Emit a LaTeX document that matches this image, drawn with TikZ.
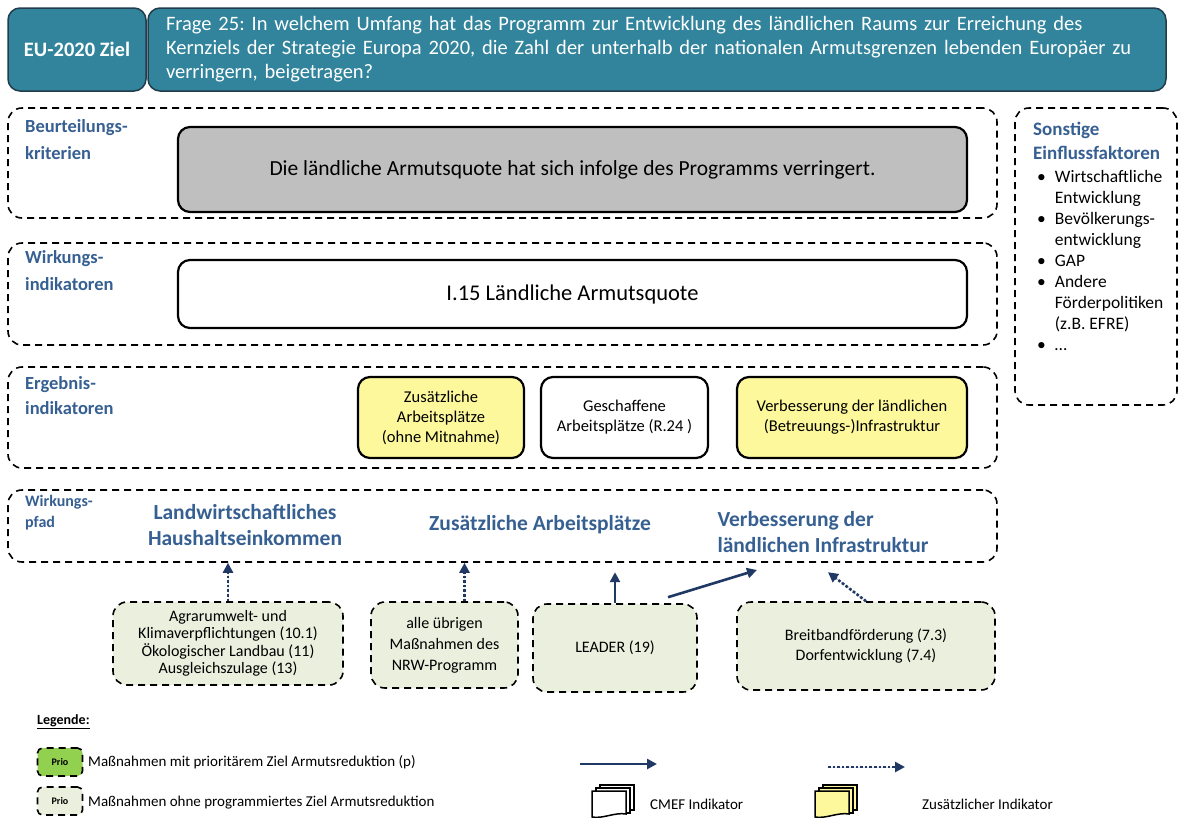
\documentclass[tikz,border=0pt]{standalone}
\usepackage{fontspec}
\setmainfont{Carlito}
\frenchspacing
\usetikzlibrary{arrows.meta,positioning,calc}
\definecolor{petrol}{RGB}{49,132,155}
\definecolor{petroldunkel}{RGB}{33,60,74}
\definecolor{stahlblau}{RGB}{55,96,146}
\definecolor{marine}{RGB}{31,56,100}
\definecolor{grau}{RGB}{191,191,191}
\definecolor{gelb}{RGB}{252,248,155}
\definecolor{hellgruen}{RGB}{235,240,222}
\definecolor{priogruen}{RGB}{146,208,80}

\tikzset{
  rahmen/.style={draw,dash pattern=on 7pt off 5pt,line width=1.6pt,rounded corners=14pt},
  ebene/.style={font=\bfseries\fontsize{18.5}{25}\selectfont,text=stahlblau,align=left,anchor=north west,inner sep=0pt},
  indbox/.style={draw,line width=2.2pt,rounded corners=12pt,align=center},
  massbox/.style={rahmen,fill=hellgruen,align=center,font=\fontsize{16}{17.5}\selectfont},
  pfadtext/.style={font=\bfseries\fontsize{21.5}{26}\selectfont,text=stahlblau},
  wirkt/.style={-{Triangle[length=10pt,width=10pt]},line width=2.6pt,draw=marine,fill=marine},
  wirktvlt/.style={wirkt,dash pattern=on 2.6pt off 2pt},
  legtext/.style={anchor=west,inner sep=0pt,font=\fontsize{15}{17}\selectfont}
}

% Stapel-Symbol fuer Indikatoren
\newcommand{\indstapel}[3]{%
  \draw[line width=1.2pt,fill=#3] (#1+8,#2-6) rectangle (#1+42,#2+19);
  \draw[line width=1.2pt,fill=#3] (#1+4,#2-3) rectangle (#1+38,#2+22);
  \draw[line width=1.5pt,fill=#3] (#1,#2) -- (#1+34,#2) -- (#1+34,#2+23)
    .. controls (#1+23,#2+21) and (#1+11,#2+28) .. (#1,#2+26) -- cycle;
}

\begin{document}
\begin{tikzpicture}[x=1pt,y=-1pt]
\useasboundingbox[fill=white] (0,0) rectangle (1182,817);

% Kopfzeile
\node[draw=petroldunkel,line width=1.5pt,fill=petrol,rounded corners=12pt,minimum width=138pt,minimum height=83pt,
  text=white,font=\bfseries\fontsize{20.5}{24}\selectfont] (ziel) at (77,49.5) {EU-2020 Ziel};
\node[draw=petroldunkel,line width=1.5pt,fill=petrol,rounded corners=12pt,minimum width=1018pt,minimum height=83pt,
  text=white,inner xsep=18pt,text width=982pt,align=left,font=\fontsize{20.5}{24}\selectfont] (frage) at (657,49.5)
  {Frage 25: In welchem Umfang hat das Programm zur Entwicklung des ländlichen Raums zur Erreichung des\\
   Kernziels der Strategie Europa 2020, die Zahl der unterhalb der nationalen Armutsgrenzen lebenden Europäer zu\\
   verringern, beigetragen?};

% Ebenen
\node[rahmen,minimum width=989pt,minimum height=110pt] (kriterienrahmen) at (502.5,163) {};
\node[rahmen,minimum width=989pt,minimum height=102pt] (wirkungrahmen) at (502.5,294) {};
\node[rahmen,minimum width=989pt,minimum height=101pt] (ergebnisrahmen) at (502.5,417.5) {};
\node[rahmen,minimum width=989pt,minimum height=72pt] (pfadrahmen) at (502.5,526) {};
\node[rahmen,minimum width=162pt,minimum height=297pt] (sonstigerahmen) at (1096,256.5) {};

\node[ebene] (kriterienlabel) at (25,119) {Beurteilungs-\\[2pt]kriterien};
\node[ebene] (wirkunglabel) at (25,250) {Wirkungs-\\[2pt]indikatoren};
\node[ebene] (ergebnislabel) at (25,376) {Ergebnis-\\indikatoren};
\node[ebene,font=\bfseries\fontsize{16}{21}\selectfont] (pfadlabel) at (25,495) {Wirkungs-\\pfad};

% Indikatoren
\node[indbox,fill=grau,minimum width=789pt,minimum height=85pt,font=\fontsize{21.5}{25}\selectfont] (kriterium) at (572.5,169.5)
  {Die ländliche Armutsquote hat sich infolge des Programms verringert.};
\node[indbox,fill=white,minimum width=789pt,minimum height=68pt,font=\fontsize{22.5}{26}\selectfont] (armutsquote) at (572.5,294)
  {I.15 Ländliche Armutsquote};
\node[indbox,fill=gelb,minimum width=166pt,minimum height=81pt,font=\fontsize{16.5}{20}\selectfont] (zusatzjobs) at (441,417.5)
  {Zusätzliche\\Arbeitsplätze\\(ohne Mitnahme)};
\node[indbox,fill=white,minimum width=167pt,minimum height=81pt,font=\fontsize{16.5}{20}\selectfont] (geschaffen) at (624.5,417.5)
  {Geschaffene\\Arbeitsplätze (R.24 )};
\node[indbox,fill=gelb,minimum width=230pt,minimum height=81pt,font=\fontsize{16.5}{20}\selectfont] (infrastruktur) at (852,417.5)
  {Verbesserung der ländlichen\\(Betreuungs-)Infrastruktur};

% Wirkungspfade
\node[pfadtext,align=center] (hheinkommen) at (245,525) {Landwirtschaftliches\\Haushaltseinkommen};
\node[pfadtext] (pfadjobs) at (540,525) {Zusätzliche Arbeitsplätze};
\node[pfadtext,align=left,anchor=west] (pfadinfra) at (714,532) {Verbesserung der\\ländlichen Infrastruktur};

% Sonstige Einflussfaktoren
\node[ebene,font=\bfseries\fontsize{19}{24}\selectfont] (sonstigelabel) at (1033,122) {Sonstige\\Einflussfaktoren};
\node[anchor=north west,inner sep=0pt,font=\fontsize{17.5}{21}\selectfont] (sonstigeliste) at (1033,168)
  {\begin{tabular}{@{\hspace{4pt}}l@{\hspace{9pt}}l@{}}
   \textbullet & Wirtschaftliche\\ & Entwicklung\\
   \textbullet & Bevölkerungs-\\ & entwicklung\\
   \textbullet & GAP\\
   \textbullet & Andere\\ & Förderpolitiken\\ & (z.B. EFRE)\\
   \textbullet & \dots
   \end{tabular}};

% Massnahmen
\node[massbox,minimum width=230pt,minimum height=83pt] (agrar) at (228,643.5)
  {Agrarumwelt- und\\Klimaverpflichtungen (10.1)\\Ökologischer Landbau (11)\\Ausgleichszulage (13)};
\node[massbox,minimum width=147pt,minimum height=86pt,font=\fontsize{16}{21}\selectfont] (uebrige) at (444.5,645)
  {alle übrigen\\Maßnahmen des\\NRW-Programm};
\node[massbox,minimum width=164pt,minimum height=88pt] (leader) at (615,648) {LEADER (19)};
\node[massbox,minimum width=258pt,minimum height=88pt,font=\fontsize{16}{20}\selectfont] (breitband) at (866,646)
  {Breitbandförderung (7.3)\\Dorfentwicklung (7.4)};

\draw[wirktvlt] (agrar.north) -- (agrar.north |- pfadrahmen.south);
\draw[wirktvlt] ([xshift=20pt]uebrige.north) -- ([xshift=20pt]uebrige.north |- pfadrahmen.south);
\draw[wirkt] (leader.north) -- ++(0,-31);
\coordinate (infraziel) at (757,570);
\draw[wirkt] ($(leader.north)+(53,-6)$) -- (infraziel);
\draw[wirktvlt] (breitband.north) -- ++(-38,-29);

% Legende
\node[anchor=west,inner sep=0pt,font=\bfseries\fontsize{14}{16}\selectfont] (legende) at (37,722) {\underline{Legende:}};
\node[rahmen,rounded corners=5pt,fill=priogruen,minimum width=45pt,minimum height=28pt,font=\bfseries\fontsize{10}{12}\selectfont] (prio) at (60,762) {Prio};
\node[legtext] (priotext) at (88,762) {Maßnahmen mit prioritärem Ziel Armutsreduktion (p)};
\node[rahmen,rounded corners=5pt,fill=hellgruen,minimum width=45pt,minimum height=28pt,font=\bfseries\fontsize{10}{12}\selectfont] (ohneprio) at (60,801) {Prio};
\node[legtext] (ohnepriotext) at (88,803) {Maßnahmen ohne programmiertes Ziel Armutsreduktion};

\coordinate (legpfeilA) at (580,764);
\coordinate (legpfeilB) at (657,764);
\draw[wirkt] (legpfeilA) -- (legpfeilB);
\coordinate (legpunktA) at (828,767);
\coordinate (legpunktB) at (905,767);
\draw[wirktvlt] (legpunktA) -- (legpunktB);

\indstapel{592}{791}{white}
\node[legtext] (cmeftext) at (650,804) {CMEF Indikator};
\indstapel{815}{791}{gelb}
\node[legtext] (zusatztext) at (922,804) {Zusätzlicher Indikator};
\end{tikzpicture}
\end{document}
